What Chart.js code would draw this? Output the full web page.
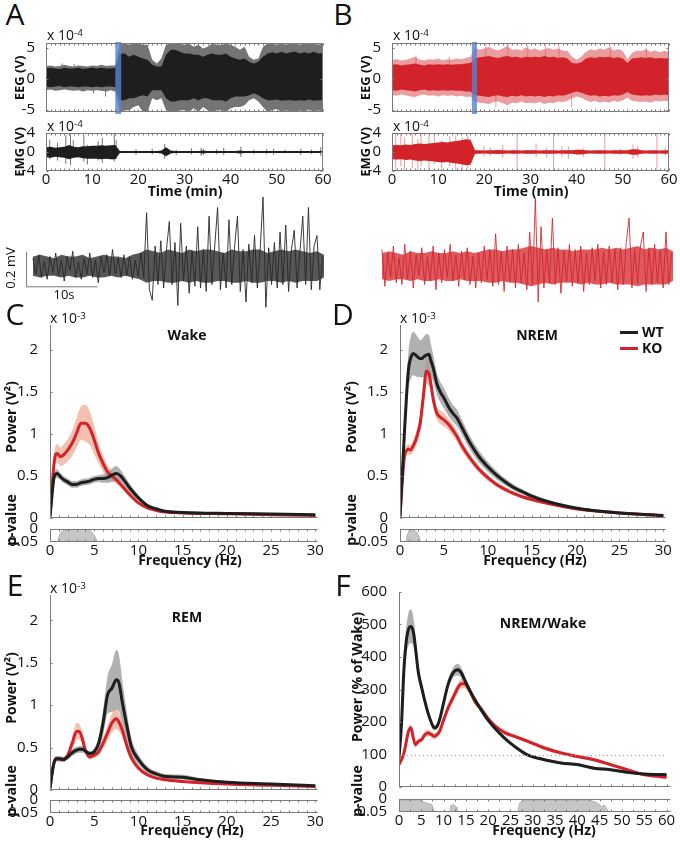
<!DOCTYPE html>
<html>
<head>
<meta charset="utf-8">
<script src="https://cdn.jsdelivr.net/npm/chart.js@4.4.1/dist/chart.umd.min.js"></script>
<style>
  body { margin: 0; width: 680px; height: 843px; position: relative; overflow: hidden; background: #fff; font-family: "Open Sans", sans-serif; }
  canvas { position: absolute; }
  .t { position: absolute; white-space: nowrap; line-height: 1; color: #111; }
  .t sup { font-size: 70%; vertical-align: 0.45em; line-height: 0; }
</style>
</head>
<body>
<script>
// ---------- A / B : raw traces, per-minute envelopes (x 1e-4 V) ----------
const MINUTES = Array.from({length: 61}, (_, i) => i);

const A_EEG_OUT_HI = [2.1,2.2,2.0,2.1,2.3,2.1,2.0,2.2,2.1,2.0,2.2,2.1,2.3,2.1,2.2,2.2,5.7,5.7,5.5,5.7,5.7,5.5,5.5,3.1,2.5,3.3,5.5,5.7,5.7,5.7,5.5,5.7,5.2,5.5,4.9,5.2,5.7,5.5,5.5,5.7,5.5,5.2,4.7,5.2,3.6,3.1,3.3,5.2,5.7,5.7,5.5,5.7,5.5,5.7,5.7,5.5,5.7,5.6,5.7,5.5,5.7];
const A_EEG_CORE_HI = [1.7,1.8,1.7,1.6,1.8,1.7,1.7,1.8,1.6,1.7,1.8,1.7,1.8,1.7,1.7,1.8,4.1,4.1,3.6,3.9,3.6,3.3,3.1,2.3,2.0,2.0,3.9,4.7,4.7,4.4,4.1,4.1,3.9,3.9,3.6,3.9,4.1,3.9,3.9,4.1,3.6,3.3,3.1,3.3,2.8,2.5,2.8,3.6,4.1,4.3,4.1,4.4,4.1,4.3,4.4,4.1,4.3,4.1,4.4,4.1,4.2];
const A_EEG_CORE_LO = [-1.2,-1.3,-1.2,-1.1,-1.3,-1.2,-1.2,-1.3,-1.2,-1.2,-1.3,-1.2,-1.3,-1.2,-1.2,-1.3,-3.4,-3.4,-3.1,-3.1,-2.8,-2.6,-2.8,-1.8,-1.8,-1.8,-3.1,-3.6,-3.6,-3.4,-3.4,-3.4,-3.1,-3.4,-3.1,-3.1,-3.4,-3.4,-3.4,-3.6,-3.1,-2.8,-2.8,-2.8,-2.6,-2.3,-2.6,-3.1,-3.4,-3.4,-3.3,-3.5,-3.4,-3.4,-3.5,-3.4,-3.5,-3.3,-3.5,-3.4,-3.4];
const A_EEG_OUT_LO = [-1.8,-1.7,-1.9,-1.8,-1.7,-1.8,-1.9,-1.8,-2.0,-1.8,-1.9,-1.8,-1.9,-2.0,-1.8,-2.0,-5.3,-5.0,-5.0,-4.5,-4.2,-5.3,-5.3,-3.1,-3.4,-3.1,-5.0,-5.3,-5.3,-5.0,-5.0,-5.3,-4.7,-5.3,-4.5,-5.0,-5.3,-5.0,-5.0,-5.3,-4.7,-4.5,-4.5,-4.2,-3.4,-3.1,-3.6,-4.5,-5.3,-5.0,-4.8,-5.3,-5.0,-5.2,-5.3,-5.0,-5.3,-4.9,-5.3,-5.0,-5.2];
const A_EEG_SPIKES = [[3.5,0,2.5],[6.1,0,2.4],[8.4,-1.9,0],[10.3,-2.3,0],[12.9,-2.8,0]];

const A_EMG_HI = [1.0,1.1,0.9,1.0,1.1,1.5,1.1,1.0,1.2,1.2,1.3,1.3,1.4,1.3,1.4,1.5,0.2,0.2,0.2,0.2,0.2,0.2,0.2,0.2,0.2,0.3,1.0,0.3,0.2,0.2,0.2,0.2,0.2,0.2,0.3,0.2,0.2,0.2,0.2,0.2,0.2,0.2,0.3,0.2,0.2,0.2,0.2,0.2,0.2,0.2,0.2,0.2,0.2,0.2,0.2,0.2,0.2,0.2,0.2,0.2,0.2];
const A_EMG_LO = [-1.1,-1.2,-1.0,-1.1,-1.2,-1.5,-1.2,-1.1,-1.3,-1.4,-1.4,-1.4,-1.5,-1.4,-1.5,-1.5,-0.2,-0.2,-0.2,-0.2,-0.2,-0.2,-0.2,-0.2,-0.2,-0.3,-0.9,-0.3,-0.2,-0.2,-0.2,-0.2,-0.2,-0.2,-0.3,-0.2,-0.2,-0.2,-0.2,-0.2,-0.2,-0.2,-0.3,-0.2,-0.2,-0.2,-0.2,-0.2,-0.2,-0.2,-0.2,-0.2,-0.2,-0.2,-0.2,-0.2,-0.2,-0.2,-0.2,-0.2,-0.2];
const A_EMG_SPIKES = [[0.8,-1.5,2.6],[2.5,-1.8,2.0],[4.3,-2.5,3.5],[5.3,-2.8,3.7],[5.9,-1.0,2.5],[8.2,-2.0,3.5],[9.0,-2.6,1.5],[11.3,-1.8,2.3],[12.2,-2.3,3.0],[14.8,-2.0,3.8],[15.2,-1.5,2.5],[19.5,-0.6,0.6],[23,-0.5,0.7],[25.7,-1.4,1.7],[28.2,-0.6,0.5],[31.5,-0.5,0.8],[33.6,-0.8,0.9],[34.1,-0.6,0.7],[37,-0.5,0.6],[38.5,-0.7,0.9],[42.2,-1.0,1.1],[45,-0.4,0.5],[47.8,-0.5,0.6],[49.3,-0.6,0.7],[51.8,-0.3,0.5],[55.2,-0.6,0.7],[57.5,-0.4,0.5],[59.5,-0.8,1.0]];

const B_EEG_OUT_HI = [3.1,3.2,3.0,3.1,3.3,3.6,3.1,3.0,3.2,3.1,3.3,3.0,3.2,3.1,3.3,3.2,3.4,3.6,5.0,4.7,4.9,5.2,4.8,4.6,4.9,5.3,4.7,4.8,4.6,5.1,4.7,4.9,4.6,4.8,5.0,4.7,4.9,4.6,4.5,3.6,3.1,3.6,4.4,4.8,4.6,4.9,4.7,5.1,4.6,4.8,4.5,3.2,4.2,4.6,4.5,4.8,4.4,4.6,4.3,4.5,4.4];
const B_EEG_CORE_HI = [2.3,2.4,2.2,2.3,2.4,2.5,2.3,2.2,2.4,2.3,2.4,2.3,2.4,2.3,2.4,2.4,2.5,2.6,3.4,3.5,3.6,3.7,3.5,3.4,3.6,3.7,3.5,3.6,3.4,3.6,3.5,3.6,3.5,3.7,3.5,3.6,3.4,3.5,3.3,2.6,2.5,2.7,3.3,3.5,3.4,3.6,3.5,3.6,3.4,3.5,3.3,2.6,3.3,3.4,3.5,3.4,3.5,3.3,3.4,3.3,3.4];
const B_EEG_CORE_LO = [-1.8,-1.9,-1.7,-1.8,-1.9,-2.0,-1.8,-1.7,-1.9,-1.8,-1.9,-1.8,-1.9,-1.8,-1.9,-1.9,-2.0,-2.0,-2.6,-2.7,-2.8,-2.9,-2.7,-2.6,-2.8,-2.9,-2.7,-2.8,-2.6,-2.8,-2.7,-2.8,-2.7,-2.9,-2.7,-2.8,-2.6,-2.7,-2.5,-2.2,-2.0,-2.2,-2.5,-2.7,-2.6,-2.8,-2.7,-2.8,-2.6,-2.7,-2.5,-2.1,-2.5,-2.6,-2.7,-2.6,-2.7,-2.5,-2.6,-2.5,-2.6];
const B_EEG_OUT_LO = [-2.6,-2.7,-2.5,-2.6,-2.8,-2.9,-2.6,-2.5,-2.7,-2.6,-2.8,-2.6,-2.7,-2.6,-2.8,-2.7,-2.9,-2.8,-3.6,-3.8,-3.9,-4.0,-3.7,-3.6,-3.9,-4.2,-3.8,-3.9,-3.6,-3.9,-3.8,-3.9,-3.7,-4.0,-3.8,-3.9,-3.6,-3.7,-3.5,-3.1,-2.8,-3.0,-3.4,-3.7,-3.5,-3.8,-3.6,-3.8,-3.5,-3.7,-3.4,-3.0,-3.5,-3.6,-3.7,-3.6,-3.8,-3.5,-3.6,-3.5,-3.6];
const B_EEG_SPIKES = [[5.2,0,3.8],[12.4,0,3.6],[20.3,0,5.6],[25.1,0,5.7],[29.4,0,5.5],[33.2,0,5.6],[36.2,0,5.3],[47.3,0,5.4],[55.1,0,5.0],[22.5,-4.6,0],[38.9,-4.5,0]];

const B_EMG_HI = [1.4,1.5,1.4,1.6,1.5,1.7,1.8,1.7,1.8,1.9,2.0,2.1,2.0,2.2,2.3,2.5,2.7,2.6,0.35,0.35,0.3,0.35,0.35,0.4,0.35,0.3,0.35,0.35,0.3,0.35,0.35,0.35,0.3,0.35,0.35,0.35,0.3,0.35,0.35,0.35,0.5,0.5,0.35,0.3,0.35,0.35,0.35,0.3,0.35,0.35,0.35,0.35,0.6,0.6,0.35,0.3,0.35,0.35,0.3,0.35,0.35];
const B_EMG_LO = [-1.5,-1.6,-1.5,-1.7,-1.6,-1.8,-1.9,-1.8,-1.9,-2.0,-2.1,-2.2,-2.1,-2.3,-2.4,-2.6,-2.8,-2.7,-0.35,-0.35,-0.3,-0.35,-0.35,-0.4,-0.35,-0.3,-0.35,-0.35,-0.3,-0.35,-0.35,-0.35,-0.3,-0.35,-0.35,-0.35,-0.3,-0.35,-0.35,-0.35,-0.5,-0.5,-0.35,-0.3,-0.35,-0.35,-0.35,-0.3,-0.35,-0.35,-0.35,-0.35,-0.6,-0.6,-0.35,-0.3,-0.35,-0.35,-0.3,-0.35,-0.35];
const B_EMG_SPIKES = [[0.8,-4,4],[1.9,-3,4],[2.7,-4,3],[4.4,-3.5,4],[5.6,-4,2.8],[6.3,-3,4],[8,-4,3.5],[9.2,-2.5,3.8],[10.7,-3.8,2.5],[12.5,-3,3.3],[13.8,-4,3.5],[15.2,-3.8,3.2],[16.4,-3.5,3.6],[19.9,-1,1.3],[21.3,-0.8,1],[24,-1.2,1.5],[27.1,-4,3.5],[31.2,-1,1.8],[33.5,-1.2,0.9],[35,-4,4],[36.8,-1,1.2],[38.2,-1.5,1.2],[41.5,-1,0.8],[46.1,-4,4],[49.5,-0.6,0.7],[52.2,-1.5,1.6],[53.2,-1.2,1.3],[57.4,-4,4],[59.2,-0.8,0.9]];

const HIGHLIGHT_A = [15.0, 16.3];
const HIGHLIGHT_B = [17.3, 18.4];

// ---------- zoomed 41 s traces (mV), one sample every 0.4 s ----------
const ZOOM_DT = 0.4;
const ZOOM_A = [0.05,-0.04,0.07,-0.06,0.03,-0.07,0.06,-0.03,0.08,-0.05,
  0.04,-0.08,0.06,-0.02,0.09,-0.06,0.03,-0.07,0.05,-0.04,
  0.08,-0.06,0.04,-0.09,0.06,-0.03,0.07,-0.05,0.1,-0.04,
  0.05,-0.06,0.07,-0.05,0.06,-0.07,0.04,-0.05,0.08,-0.06,
  0.31,-0.13,-0.19,0.12,-0.1,0.15,-0.12,0.1,0.26,-0.1,
  0.14,-0.22,0.25,-0.08,0.12,-0.15,0.09,-0.11,0.23,-0.12,
  0.1,-0.14,0.29,-0.1,0.12,0.34,-0.13,0.08,-0.12,0.27,
  -0.1,0.12,0.29,-0.14,0.1,-0.2,0.13,-0.09,0.18,-0.12,
  0.1,0.4,-0.23,0.11,-0.1,0.14,-0.12,0.2,-0.1,0.24,
  -0.14,0.1,0.21,-0.12,0.09,0.29,-0.1,0.34,-0.13,0.12,
  0.18,-0.13,0.06];
const ZOOM_B = [0.1,-0.11,0.08,-0.06,0.12,-0.09,0.05,-0.1,0.13,-0.07,
  0.09,-0.12,0.07,-0.05,0.11,-0.1,0.06,-0.08,0.12,-0.13,
  0.08,-0.09,0.1,-0.06,0.13,-0.08,0.07,-0.11,0.09,-0.07,
  0.11,-0.1,0.06,-0.12,0.08,-0.09,0.12,-0.07,0.1,-0.11,
  0.19,-0.1,0.09,-0.14,0.12,-0.08,0.1,-0.12,0.13,-0.09,
  0.08,-0.13,0.2,-0.1,0.39,-0.2,0.23,-0.12,0.1,-0.09,
  0.28,-0.1,0.11,-0.15,0.09,-0.08,0.13,-0.11,0.1,-0.09,
  0.12,-0.14,0.08,-0.1,0.11,-0.08,0.13,-0.12,0.09,-0.1,
  0.12,-0.09,0.1,-0.13,0.11,-0.1,0.14,0.28,-0.12,0.1,
  -0.09,0.12,0.2,-0.14,0.11,-0.1,0.13,-0.09,0.1,-0.12,
  0.2,-0.1,0.08];
// dense part of the zoomed traces, one value per second (mV)
const ZOOM_SEC = Array.from({length: 42}, (_, i) => i);
const ZOOM_A_ENV_HI = [0.06,0.07,0.06,0.05,0.07,0.06,0.06,0.07,0.05,0.06,0.07,0.06,0.06,0.05,0.07,0.08,0.1,0.09,0.08,0.1,0.09,0.08,0.1,0.09,0.1,0.1,0.09,0.08,0.1,0.09,0.09,0.1,0.1,0.08,0.09,0.1,0.09,0.1,0.09,0.08,0.09,0.07];
const ZOOM_A_ENV_LO = [-0.05,-0.06,-0.05,-0.05,-0.06,-0.05,-0.06,-0.06,-0.05,-0.06,-0.06,-0.05,-0.06,-0.05,-0.06,-0.07,-0.09,-0.08,-0.08,-0.09,-0.09,-0.08,-0.09,-0.08,-0.09,-0.09,-0.08,-0.08,-0.09,-0.09,-0.08,-0.09,-0.09,-0.08,-0.08,-0.09,-0.08,-0.09,-0.08,-0.08,-0.08,-0.06];
const ZOOM_B_ENV_HI = [0.08,0.09,0.08,0.07,0.09,0.08,0.08,0.09,0.08,0.08,0.09,0.08,0.09,0.08,0.09,0.1,0.1,0.09,0.1,0.1,0.11,0.12,0.11,0.1,0.11,0.1,0.1,0.09,0.1,0.1,0.1,0.11,0.1,0.11,0.1,0.11,0.12,0.1,0.11,0.1,0.11,0.09];
const ZOOM_B_ENV_LO = [-0.07,-0.08,-0.07,-0.07,-0.08,-0.07,-0.08,-0.08,-0.07,-0.08,-0.08,-0.07,-0.08,-0.08,-0.08,-0.09,-0.09,-0.08,-0.09,-0.09,-0.1,-0.11,-0.1,-0.09,-0.1,-0.09,-0.09,-0.09,-0.1,-0.09,-0.1,-0.1,-0.09,-0.1,-0.1,-0.1,-0.11,-0.1,-0.1,-0.1,-0.1,-0.08];
const SCALE_BAR = {mV: 0.2, s: 10};

// ---------- C : Wake spectrum (x 1e-3 V^2) ----------
const FREQ_C = [0,0.5,0.8,1.2,1.5,2,2.5,3,3.5,4,4.5,5,5.5,6,6.5,7,7.5,8,9,10,11,12,13,15,20,25,30];
const WAKE_KO = [0.02,0.69,0.77,0.73,0.75,0.81,0.89,1.01,1.13,1.13,1.07,0.93,0.77,0.65,0.55,0.50,0.455,0.40,0.28,0.18,0.12,0.09,0.07,0.06,0.05,0.04,0.03];
const WAKE_KO_SEM = [0.01,0.1,0.11,0.11,0.12,0.13,0.15,0.18,0.2,0.22,0.2,0.17,0.12,0.1,0.08,0.06,0.05,0.04,0.03,0.02,0.015,0.01,0.01,0.01,0.01,0.01,0.01];
const WAKE_WT = [0.02,0.50,0.53,0.49,0.46,0.43,0.40,0.40,0.42,0.43,0.44,0.46,0.47,0.47,0.48,0.51,0.53,0.50,0.36,0.24,0.15,0.11,0.08,0.067,0.055,0.048,0.04];
const WAKE_WT_SEM = [0.01,0.04,0.05,0.04,0.04,0.04,0.04,0.04,0.04,0.04,0.04,0.04,0.04,0.05,0.06,0.08,0.09,0.07,0.05,0.03,0.02,0.015,0.01,0.01,0.01,0.01,0.01];
const WAKE_P = [[0,0.05],[0.85,0.05],[1.1,0.02],[1.4,0.007],[1.8,0.003],[2.5,0.002],[3.5,0.002],[4.2,0.003],[4.7,0.01],[5.1,0.03],[5.4,0.05],[30.3,0.05]];

// ---------- D : NREM spectrum ----------
const FREQ_D = [0,0.5,0.8,1,1.2,1.5,1.8,2,2.3,2.5,2.7,3,3.3,3.5,3.8,4.2,4.6,5,5.5,6,6.5,7,8,9,10,11,12,13,14,15,17,20,22,25,30];
const NREM_WT = [0.02,1.01,1.55,1.80,1.90,1.96,1.94,1.92,1.90,1.90,1.92,1.94,1.95,1.88,1.78,1.60,1.50,1.43,1.33,1.25,1.19,1.09,0.89,0.73,0.61,0.51,0.43,0.36,0.31,0.26,0.19,0.12,0.09,0.06,0.03];
const NREM_WT_SEM = [0.01,0.1,0.18,0.22,0.25,0.26,0.25,0.24,0.22,0.23,0.24,0.25,0.23,0.2,0.16,0.13,0.12,0.12,0.11,0.1,0.1,0.09,0.08,0.07,0.06,0.05,0.04,0.035,0.03,0.03,0.02,0.015,0.01,0.01,0.01];
const NREM_KO = [0.02,0.73,0.81,0.82,0.81,0.86,0.93,1.0,1.13,1.3,1.49,1.75,1.72,1.61,1.41,1.25,1.20,1.17,1.12,1.05,0.97,0.87,0.71,0.58,0.48,0.40,0.34,0.29,0.25,0.22,0.17,0.11,0.085,0.06,0.03];
const NREM_KO_SEM = [0.01,0.06,0.06,0.06,0.06,0.07,0.08,0.09,0.11,0.13,0.15,0.16,0.15,0.13,0.1,0.08,0.08,0.08,0.07,0.07,0.06,0.06,0.05,0.04,0.035,0.03,0.03,0.025,0.02,0.02,0.015,0.01,0.01,0.01,0.01];
const NREM_P = [[0,0.05],[0.7,0.05],[0.8,0.025],[1.0,0.01],[1.3,0.004],[1.6,0.005],[1.9,0.012],[2.2,0.03],[2.35,0.05],[30.3,0.05]];

// ---------- E : REM spectrum ----------
const FREQ_E = [0,0.3,0.6,0.9,1.5,2,2.5,3,3.3,3.7,4,4.5,5,5.5,6,6.5,7,7.5,7.8,8.2,8.7,9.2,10,11,12,13,15,17,20,25,30];
const REM_WT = [0.02,0.24,0.36,0.37,0.36,0.39,0.44,0.47,0.48,0.48,0.46,0.43,0.45,0.55,0.79,1.12,1.20,1.30,1.26,1.02,0.75,0.51,0.36,0.24,0.19,0.16,0.15,0.12,0.09,0.07,0.05];
const REM_WT_SEM = [0.01,0.03,0.03,0.03,0.03,0.03,0.04,0.04,0.04,0.04,0.03,0.03,0.04,0.08,0.15,0.22,0.28,0.35,0.33,0.25,0.16,0.1,0.06,0.04,0.03,0.03,0.03,0.02,0.015,0.01,0.01];
const REM_KO = [0.02,0.25,0.37,0.37,0.36,0.41,0.55,0.69,0.69,0.59,0.47,0.39,0.41,0.45,0.55,0.67,0.79,0.84,0.80,0.70,0.52,0.38,0.26,0.18,0.14,0.12,0.10,0.085,0.07,0.055,0.04];
const REM_KO_SEM = [0.01,0.03,0.03,0.03,0.03,0.04,0.07,0.1,0.09,0.07,0.04,0.03,0.03,0.04,0.06,0.09,0.11,0.12,0.11,0.09,0.06,0.04,0.03,0.02,0.015,0.01,0.01,0.01,0.01,0.01,0.01];
const REM_P = [[0,0.05],[2.95,0.05],[3.05,0.042],[3.15,0.046],[3.2,0.05],[30.3,0.05]];

// ---------- F : NREM / Wake (% of Wake) ----------
const FREQ_F = [0,0.6,1,1.5,2.1,2.7,3.2,3.7,4.3,5.1,5.8,6.5,7.3,7.9,8.4,9.1,9.9,11,12.1,13.2,14,14.7,15.8,17,18.4,19.9,21.4,23.6,25.9,28.8,32.6,36.3,40,43.7,47.4,51.2,54.9,60];
const RATIO_WT = [89,202,335,433,484,494,479,428,356,305,264,228,197,182,184,207,253,315,351,361,351,330,299,269,238,207,182,151,125,99,84,74,69,58,53,45,40,38];
const RATIO_WT_SEM = [5,15,25,40,50,52,45,35,25,15,12,10,8,8,8,8,10,12,15,18,15,12,10,8,7,6,5,5,4,4,4,4,4,4,4,4,4,5];
const RATIO_KO = [69,85,99,130,170,182,151,130,140,146,161,166,161,156,160,171,202,243,274,305,318,318,298,264,240,212,190,168,156,141,120,105,94,84,69,53,38,30];
const RATIO_KO_SEM = [5,6,7,8,10,10,9,8,8,9,10,10,9,9,9,10,12,13,14,15,15,14,12,10,9,8,7,7,6,6,6,6,5,5,5,5,5,5];
const RATIO_P = [[0,0.004],[3,0.004],[5,0.004],[5.6,0.012],[6.5,0.017],[7.3,0.02],[7.7,0.035],[7.9,0.05],[11.4,0.05],[11.6,0.025],[12.2,0.022],[12.8,0.03],[13,0.05],[26.6,0.05],[27.1,0.015],[28,0.005],[30,0.004],[38,0.004],[43,0.005],[44,0.012],[44.8,0.02],[45.5,0.03],[46,0.022],[46.7,0.04],[47,0.05],[61,0.05]];

const SPEC_X_TICKS = [0,5,10,15,20,25,30];
const SPEC_Y_TICKS = [0,0.5,1,1.5,2];
const RATIO_X_TICKS = [0,5,10,15,20,25,30,35,40,45,50,55,60];
const RATIO_Y_TICKS = [0,100,200,300,400,500,600];
const P_TICKS = [0,0.05];
const TIME_TICKS = [0,10,20,30,40,50,60];

// ---------- colours ----------
const BLACK = '#1e1e1e', RED = '#d2232a';
const GREY_BAND = 'rgba(150,150,150,0.75)', RED_BAND = 'rgba(234,130,100,0.5)';

Chart.defaults.font.family = '"Open Sans", sans-serif';
Chart.defaults.font.size = 15;
Chart.defaults.color = '#111';

const framePlugin = {
  id: 'frame',
  afterDatasetsDraw(chart, args, o) {
    const ctx = chart.ctx, a = chart.chartArea, x = chart.scales.x, y = chart.scales.y;
    ctx.save();
    if (o.hl) {
      const x0 = x.getPixelForValue(o.hl[0]), x1 = x.getPixelForValue(o.hl[1]);
      ctx.fillStyle = 'rgba(84,132,210,0.8)';
      ctx.fillRect(x0, a.top - 1, x1 - x0, a.bottom - a.top + 3);
    }
    if (o.ref != null) {
      const p = Math.round(y.getPixelForValue(o.ref)) + 0.5;
      ctx.strokeStyle = '#9a9a9a'; ctx.setLineDash([1, 3]);
      ctx.beginPath(); ctx.moveTo(a.left, p); ctx.lineTo(x.getPixelForValue(60), p); ctx.stroke();
      ctx.setLineDash([]);
    }
    if (o.bar) {
      const x0 = x.getPixelForValue(o.bar.t), x1 = x.getPixelForValue(o.bar.t + SCALE_BAR.s);
      const y0 = y.getPixelForValue(o.bar.v), y1 = y.getPixelForValue(o.bar.v + SCALE_BAR.mV);
      ctx.strokeStyle = '#777'; ctx.lineWidth = 1;
      ctx.beginPath(); ctx.moveTo(x0, y1); ctx.lineTo(x0, y0); ctx.lineTo(x1, y0); ctx.stroke();
    }
    const s = o.sides || '';
    if (s) {
      const len = o.len || 3;
      const L = Math.round(a.left) + 0.5, R = Math.round(a.right) - 0.5;
      const T = Math.round(a.top) + 0.5, B = Math.round(a.bottom) - 0.5;
      ctx.strokeStyle = o.color || '#7a7a7a'; ctx.lineWidth = 1;
      ctx.beginPath();
      if (s.includes('l')) { ctx.moveTo(L, T - 0.5); ctx.lineTo(L, B + 0.5); }
      if (s.includes('r')) { ctx.moveTo(R, T - 0.5); ctx.lineTo(R, B + 0.5); }
      if (s.includes('t')) { ctx.moveTo(L, T); ctx.lineTo(R, T); }
      if (s.includes('b')) { ctx.moveTo(L, B); ctx.lineTo(R, B); }
      (o.xt || []).forEach(v => {
        const p = Math.round(x.getPixelForValue(v)) + 0.5;
        if (s.includes('b')) { ctx.moveTo(p, B); ctx.lineTo(p, B - len); }
        if (s.includes('t')) { ctx.moveTo(p, T); ctx.lineTo(p, T + len); }
      });
      (o.yt || []).forEach(v => {
        const p = Math.round(y.getPixelForValue(v)) + 0.5;
        if (s.includes('l')) { ctx.moveTo(L, p); ctx.lineTo(L + len, p); }
        if (s.includes('r')) { ctx.moveTo(R, p); ctx.lineTo(R - len, p); }
      });
      ctx.stroke();
    }
    ctx.restore();
  }
};

function steps(from, to, by) {
  const out = [];
  for (let v = from; v <= to + 1e-9; v += by) out.push(+v.toFixed(3));
  return out;
}

// box: chart area (x, y, w, h) plus room for labels l/r/t/b
function makeChart(box, datasets, sx, sy, frame) {
  const c = document.createElement('canvas');
  const W = box.l + box.w + box.r, H = box.t + box.h + box.b;
  c.width = W; c.height = H;
  c.style.left = (box.x - box.l) + 'px';
  c.style.top = (box.y - box.t) + 'px';
  c.style.width = W + 'px'; c.style.height = H + 'px';
  document.body.appendChild(c);
  const tickSet = arr => s => { s.ticks = arr.map(v => ({value: v})); };
  const xs = {
    type: 'linear', min: sx.min, max: sx.max,
    grid: {display: false}, border: {display: false},
    ticks: {display: !!sx.ticks, autoSkip: false, maxRotation: 0, padding: -8,
      callback: v => String(v)},
    afterBuildTicks: tickSet(sx.ticks || []),
    afterFit: s => { s.height = box.b; s.paddingLeft = 0; s.paddingRight = 0; }
  };
  const ys = {
    type: 'linear', min: sy.min, max: sy.max, reverse: !!sy.reverse,
    grid: {display: false}, border: {display: false},
    ticks: {display: !!sy.ticks, autoSkip: false, padding: sy.pad || 4,
      callback: v => String(v)},
    afterBuildTicks: tickSet(sy.ticks || []),
    afterFit: s => { s.width = box.l; s.paddingTop = 0; s.paddingBottom = 0; }
  };
  return new Chart(c, {
    type: 'line',
    data: {datasets},
    options: {
      responsive: false, animation: false, devicePixelRatio: 1, events: [],
      layout: {padding: {top: box.t, right: box.r, left: 0, bottom: 0}},
      elements: {point: {radius: 0}},
      plugins: {legend: {display: false}, tooltip: {enabled: false}, frame: frame || {}},
      scales: {x: xs, y: ys}
    },
    plugins: [framePlugin]
  });
}

// ---------- dataset helpers ----------
function pts(xs, ys) { return xs.map((x, i) => ({x, y: ys[i]})); }
function band(xs, hi, lo, color, order, smooth) {
  const common = {borderWidth: 0, pointRadius: 0, order, cubicInterpolationMode: smooth ? 'monotone' : 'default', tension: 0};
  return [
    Object.assign({data: pts(xs, hi), fill: '+1', backgroundColor: color}, common),
    Object.assign({data: pts(xs, lo), fill: false}, common)
  ];
}
function meanBand(xs, mean, sem, color, order) {
  return band(xs, mean.map((m, i) => m + sem[i]), mean.map((m, i) => m - sem[i]), color, order, true);
}
function meanLine(xs, mean, color, order) {
  return {data: pts(xs, mean), borderColor: color, borderWidth: 3, fill: false, order, cubicInterpolationMode: 'monotone'};
}
function spikes(list, color, order) {
  const data = [];
  list.forEach(s => { data.push({x: s[0], y: s[1]}, {x: s[0], y: s[2]}, {x: s[0], y: null}); });
  return {data, borderColor: color, borderWidth: 1, spanGaps: false, fill: false, order};
}
function pFill(list) {
  return {data: list.map(p => ({x: p[0], y: p[1]})), borderColor: '#a8a8a8', borderWidth: 0.8,
    backgroundColor: '#c6c6c6', fill: {value: 0.05}, tension: 0};
}

// ---------- A / B traces ----------
function tracePanel(x0, outHi, coreHi, coreLo, outLo, eegSpikes, emgHi, emgLo, emgSpikes, hl, dark, light) {
  makeChart({x: x0, y: 43, w: 277, h: 69, l: 40, r: 4, t: 9, b: 3},
    [...band(MINUTES, coreHi, coreLo, dark, 2), ...band(MINUTES, outHi, outLo, light, 3), spikes(eegSpikes, light, 4)],
    {min: 0, max: 60}, {min: -5.3, max: 5.8, ticks: [-5, 0, 5], pad: 3},
    {sides: 'lrtb', xt: steps(0, 60, 1), yt: [-5, 0, 5], len: 2, hl});
  makeChart({x: x0, y: 133, w: 277, h: 38, l: 40, r: 8, t: 7, b: 18},
    [...band(MINUTES, emgHi, emgLo, dark, 2), spikes(emgSpikes, light, 4)],
    {min: 0, max: 60, ticks: TIME_TICKS}, {min: -4, max: 4, ticks: [-4, 0, 4], pad: 3},
    {sides: 'lrtb', xt: steps(0, 60, 1), yt: [-4, 0, 4], len: 2});
}
tracePanel(46, A_EEG_OUT_HI, A_EEG_CORE_HI, A_EEG_CORE_LO, A_EEG_OUT_LO, A_EEG_SPIKES, A_EMG_HI, A_EMG_LO, A_EMG_SPIKES, HIGHLIGHT_A, BLACK, '#747474');
tracePanel(392, B_EEG_OUT_HI, B_EEG_CORE_HI, B_EEG_CORE_LO, B_EEG_OUT_LO, B_EEG_SPIKES, B_EMG_HI, B_EMG_LO, B_EMG_SPIKES, HIGHLIGHT_B, RED, 'rgba(222,90,95,0.6)');

// zoomed traces
const zoomT = ZOOM_A.map((_, i) => +(i * ZOOM_DT).toFixed(2));
makeChart({x: 20, y: 190, w: 305, h: 122, l: 0, r: 0, t: 0, b: 0},
  [{data: pts(zoomT, ZOOM_A), borderColor: 'rgba(40,40,40,0.9)', borderWidth: 1, tension: 0, fill: false, order: 1},
   ...band(ZOOM_SEC, ZOOM_A_ENV_HI, ZOOM_A_ENV_LO, 'rgba(30,30,30,0.75)', 2)],
  {min: -1.83, max: 41.13}, {min: -0.257, max: 0.44},
  {bar: {t: -0.9, v: -0.113}});
makeChart({x: 375, y: 190, w: 302, h: 122, l: 0, r: 0, t: 0, b: 0},
  [{data: pts(zoomT, ZOOM_B), borderColor: 'rgba(210,35,42,0.85)', borderWidth: 1, tension: 0, fill: false, order: 1},
   ...band(ZOOM_SEC, ZOOM_B_ENV_HI, ZOOM_B_ENV_LO, 'rgba(210,35,42,0.75)', 2)],
  {min: -0.99, max: 41.55}, {min: -0.257, max: 0.44});

// ---------- spectra ----------
function spectrumPanel(x0, y0, w, h, stripY, f, wt, wtSem, ko, koSem, p, ratio) {
  const xmax = ratio ? 61 : 30.3;
  const xt = ratio ? RATIO_X_TICKS : SPEC_X_TICKS;
  const minor = ratio ? steps(0, 60, 2.5) : steps(0, 30, 1);
  makeChart({x: x0, y: y0, w, h, l: 50, r: 6, t: 10, b: 8},
    [...meanBand(f, ko, koSem, RED_BAND, 6), ...meanBand(f, wt, wtSem, GREY_BAND, 5),
     meanLine(f, ko, RED, 2), meanLine(f, wt, BLACK, 1)],
    {min: 0, max: xmax},
    ratio ? {min: 0, max: 600, ticks: RATIO_Y_TICKS} : {min: 0, max: 2.3, ticks: SPEC_Y_TICKS},
    {sides: 'lb', xt: minor, yt: ratio ? RATIO_Y_TICKS : SPEC_Y_TICKS, len: 2, ref: ratio ? 100 : null});
  makeChart({x: x0, y: stripY, w, h: 13, l: 50, r: 8, t: 7, b: 22},
    [pFill(p)],
    {min: 0, max: xmax, ticks: xt}, {min: 0, max: 0.05, reverse: true, ticks: P_TICKS},
    {sides: 'ltb', xt: minor, len: 2});
}
spectrumPanel(50, 325, 268, 193, 529, FREQ_C, WAKE_WT, WAKE_WT_SEM, WAKE_KO, WAKE_KO_SEM, WAKE_P, false);
spectrumPanel(400, 325, 266, 193, 529, FREQ_D, NREM_WT, NREM_WT_SEM, NREM_KO, NREM_KO_SEM, NREM_P, false);
spectrumPanel(50, 595, 268, 195, 800, FREQ_E, REM_WT, REM_WT_SEM, REM_KO, REM_KO_SEM, REM_P, false);
spectrumPanel(399, 592, 272, 195, 799, FREQ_F, RATIO_WT, RATIO_WT_SEM, RATIO_KO, RATIO_KO_SEM, RATIO_P, true);

// ---------- text ----------
function txt(html, x, y, o = {}) {
  const d = document.createElement('div');
  d.className = 't';
  d.innerHTML = html;
  d.style.left = x + 'px'; d.style.top = y + 'px';
  d.style.fontSize = (o.size || 14) + 'px';
  d.style.fontWeight = o.bold ? '700' : '400';
  const anchor = o.left ? 'translate(0,-50%)' : 'translate(-50%,-50%)';
  d.style.transform = anchor + (o.rot ? ' rotate(-90deg)' : '');
  document.body.appendChild(d);
}
[['A', 15, 14], ['B', 343, 14], ['C', 15, 314], ['D', 343, 314], ['E', 15, 585], ['F', 343, 585]]
  .forEach(l => txt(l[0], l[1], l[2], {size: 30}));

[46, 392].forEach(x => {
  txt('x 10<sup>-4</sup>', x + 1, 35, {left: true, size: 14});
  txt('x 10<sup>-4</sup>', x + 1, 126, {left: true, size: 14});
  txt('EEG (V)', x - 27, 78, {rot: true, bold: true, size: 13});
  txt('EMG (V)', x - 27, 152, {rot: true, bold: true, size: 13});
  txt('Time (min)', x + 139, 191, {bold: true, size: 14});
});
txt('0.2 mV', 10, 268, {rot: true, size: 13});
txt('10s', 64, 294, {size: 13});

txt('x 10<sup>-3</sup>', 50, 318, {left: true, size: 14});
txt('x 10<sup>-3</sup>', 400, 318, {left: true, size: 14});
txt('x 10<sup>-3</sup>', 50, 588, {left: true, size: 14});

txt('Wake', 187, 335, {bold: true, size: 14});
txt('NREM', 537, 335, {bold: true, size: 14});
txt('REM', 187, 617, {bold: true, size: 14});
txt('NREM/Wake', 543, 623, {bold: true, size: 14});

txt('Power (V²)', 11, 417, {rot: true, bold: true});
txt('Power (V²)', 351, 417, {rot: true, bold: true});
txt('Power (V²)', 11, 688, {rot: true, bold: true});
txt('Power (% of Wake)', 357, 677, {rot: true, bold: true});
txt('p-value', 11, 520, {rot: true, bold: true});
txt('p-value', 351, 520, {rot: true, bold: true});
txt('p-value', 11, 791, {rot: true, bold: true});
txt('p-value', 357, 791, {rot: true, bold: true});
txt('Frequency (Hz)', 190, 560, {bold: true});
txt('Frequency (Hz)', 535, 560, {bold: true});
txt('Frequency (Hz)', 192, 830, {bold: true});
txt('Frequency (Hz)', 544, 830, {bold: true});

// legend
[['WT', BLACK, 332], ['KO', RED, 348]].forEach(l => {
  const d = document.createElement('div');
  d.style.cssText = `position:absolute;left:620px;top:${l[2] - 1.5}px;width:18px;height:3px;background:${l[1]}`;
  document.body.appendChild(d);
  txt(l[0], 642, l[2], {left: true, bold: true, size: 14});
});
</script>
</body>
</html>
